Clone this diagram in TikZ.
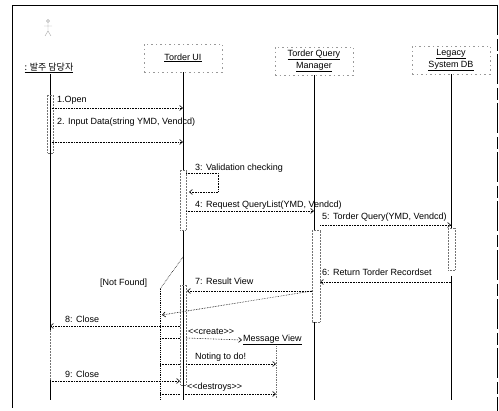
\documentclass[tikz,border=0pt]{standalone}
\usepackage{fontspec}
\setmainfont{Liberation Sans}
\newfontfamily\krfont{Noto Sans CJK KR}
\usetikzlibrary{arrows.meta}
% guillemet-free stereotype brackets
\newcommand{\stereo}[1]{<\kern0pt<#1>\kern0pt>}
\begin{document}
\begin{tikzpicture}[x=1pt,y=-1pt,
  font=\fontsize{9}{11}\selectfont,
  objbox/.style={draw=black!40, dash pattern=on 1.5pt off 3pt, line width=0.5pt,
    minimum width=78pt, minimum height=28pt, inner sep=1pt, align=center},
  life/.style={line width=0.8pt},
  faint/.style={draw=black!55, densely dotted, line width=0.5pt},
  msg/.style={densely dotted, line width=0.6pt, -{Straight Barb[length=3pt,width=5pt]}},
  seg/.style={densely dotted, line width=0.6pt},
  lbl/.style={inner sep=0pt, anchor=base west},
  frame/.style={line width=0.8pt}]
\useasboundingbox (0,0) rectangle (499,411);

% outer frame
\draw[frame] (12,408) -- (12,5) -- (497,5);
\draw[frame, dash pattern=on 30pt off 4pt on 12pt off 3pt] (497,5) -- (497,411);

% small actor figure
\begin{scope}[draw=black!35, line width=0.4pt]
  \draw (48,21) circle (1.5pt);
  \draw (48,23) -- (48,31) (44,26) -- (52,26) (48,31) -- (45,36) (48,31) -- (51,36);
\end{scope}

% objects
\node[inner sep=1pt] (act) at (49,68) {\underline{\krfont : 발주 담당자}};
\node[objbox] (ui) at (183,58) {\underline{Torder UI}};
\node[objbox] (qm) at (314,61) {\underline{Torder Query}\\[1pt]\underline{Manager}};
\node[objbox] (db) at (451,60) {\underline{Legacy}\\[1pt]\underline{System DB}};
\node[inner sep=1pt, anchor=west] (mv) at (242,340) {\underline{Message View}};

% named points on the lifelines
\coordinate (a0) at (act.south -| 50,0);
\coordinate (u0) at (ui.south);
\coordinate (q0) at (qm.south);
\coordinate (d0) at (db.south);

% lifelines
\draw[life] (a0) -- (a0 |- 0,330);
\draw[faint] (a0 |- 0,330) -- (a0 |- 0,380);
\draw[life] (a0 |- 0,380) -- (a0 |- 0,400);
\draw[life] (u0) -- (u0 |- 0,170);
\draw[life] (u0 |- 0,230) -- (u0 |- 0,400);
\draw[life] (q0) -- (q0 |- 0,230);
\draw[life] (q0 |- 0,322) -- (q0 |- 0,400);
\draw[life] (d0) -- (d0 |- 0,228);
\draw[life] (d0 |- 0,276) -- (d0 |- 0,400);
\draw[faint, line width=0.7pt] (mv.south -| 276,0) -- (276,398);

% activations
\draw[faint] (47,95) rectangle (53,153);
\draw[faint] (180,170) rectangle (186,230);
\draw[faint] (180,285) rectangle (186,385);
\draw[faint] (312,230) rectangle (320,322);
\draw[faint] (448,228) rectangle (455,270);

% [Not Found] branch
\coordinate (nf0) at (183,257);
\coordinate (nf1) at (160,289);
\coordinate (nf2) at (160,400);
\draw[seg] (nf0) -- (nf1);
\draw[seg, line width=0.8pt] (nf1) -- (nf2);
\node[lbl] (nfl) at (100,286) {[Not Found]};

% messages
\draw[msg] (a0 |- 0,108) -- (u0 |- 0,108);
\node[lbl] (m1) at (57,103) {1.Open};

\draw[msg] (a0 |- 0,142) -- (u0 |- 0,142);
\node[lbl] (m2) at (57,125) {2. Input Data(string YMD, Vendcd)};

\draw[msg] (186,173) -- (218,173) -- (218,192) -- (189,192);
\node[lbl] (m3) at (195,171) {3: Validation checking};

\draw[msg] (186,211) -- (q0 |- 0,211);
\node[lbl] (m4) at (195,208) {4: Request QueryList(YMD, Vendcd)};

\draw[msg] (320,225) -- (d0 |- 0,225);
\node[lbl] (m5) at (322,220) {5: Torder Query(YMD, Vendcd)};

\draw[msg] (d0 |- 0,282) -- (320,282);
\node[lbl] (m6) at (322,276) {6: Return Torder Recordset};

\draw[msg] (312,291) -- (187,291);
\draw[msg] (312,291) -- (162,315);
\node[lbl] (m7) at (195,285) {7: Result View};

\draw[msg] (180,326) -- (a0 |- 0,326);
\node[lbl] (m8) at (65,323) {8: Close};

\draw[seg] (160,338) -- (180,338);
\draw[msg] (186,338) -- (mv.west);
\node[lbl] (mc) at (188,335) {\stereo{create}};

\draw[seg] (160,364) -- (180,364);
\draw[msg] (186,364) -- (276,364);
\node[lbl] (mn) at (195,360) {Noting to do!};

\draw[msg] (a0 |- 0,381) -- (180,381);
\node[lbl] (m9) at (65,378) {9: Close};

\draw[seg] (160,394) -- (180,394);
\draw[msg] (183,394) -- (276,394);
\node[lbl] (md) at (187,390) {\stereo{destroys}};
\end{tikzpicture}
\end{document}
